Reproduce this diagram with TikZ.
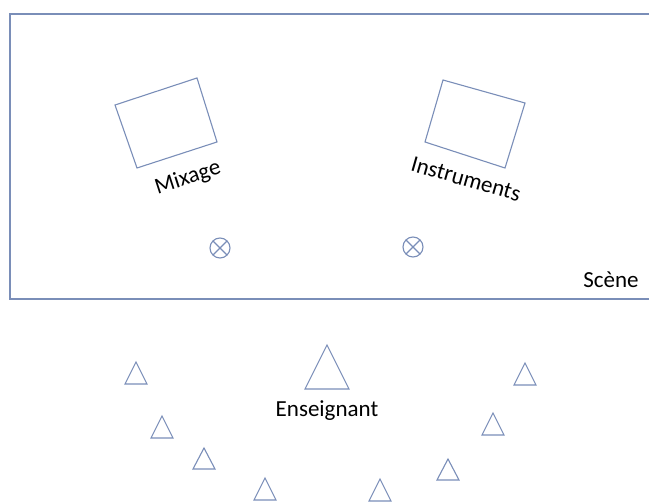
\documentclass[tikz,border=0pt]{standalone}
\usepackage{fontspec}
\setmainfont{Carlito}

\definecolor{planblue}{RGB}{122,142,184}

\begin{document}
\begin{tikzpicture}[x=1pt,y=-1pt,line width=1.1pt,
  lbl/.style={inner sep=0pt,font=\fontsize{23}{27}\selectfont}]

\useasboundingbox (0,0) rectangle (649,502) ;

\draw[planblue] (10,14) rectangle (670,299) ;

\draw[planblue] (115,105) -- (197,78) -- (217,142) -- (137,168) -- cycle ;
\draw[planblue] (443,80) -- (525,103) -- (505,168) -- (425,142) -- cycle ;

\node[lbl,rotate=18] (mixage) at (188,178) {Mixage} ;
\node[lbl,rotate=-16] (instruments) at (466,179) {Instruments} ;
\node[lbl] (scene) at (611,280) {Scène} ;

\draw[planblue] (220,248) circle (10) ;
\draw[planblue] (213,241) -- (227,255) ;
\draw[planblue] (227,241) -- (213,255) ;

\draw[planblue] (413,247) circle (10) ;
\draw[planblue] (406,240) -- (420,254) ;
\draw[planblue] (420,240) -- (406,254) ;

\draw[planblue] (327,345) -- (349,389) -- (305,389) -- cycle ;
\node[lbl] (enseignant) at (327,411) {Enseignant} ;

\draw[planblue] (136,362) -- (147,384) -- (125,384) -- cycle ;
\draw[planblue] (162,416) -- (173,438) -- (151,438) -- cycle ;
\draw[planblue] (204,448) -- (215,469) -- (193,469) -- cycle ;
\draw[planblue] (265,478) -- (276,500) -- (254,500) -- cycle ;

\draw[planblue] (380,479) -- (391,501) -- (369,501) -- cycle ;
\draw[planblue] (448,459) -- (459,480) -- (437,480) -- cycle ;
\draw[planblue] (493,413) -- (504,435) -- (482,435) -- cycle ;
\draw[planblue] (525,363) -- (536,385) -- (514,385) -- cycle ;

\end{tikzpicture}
\end{document}
